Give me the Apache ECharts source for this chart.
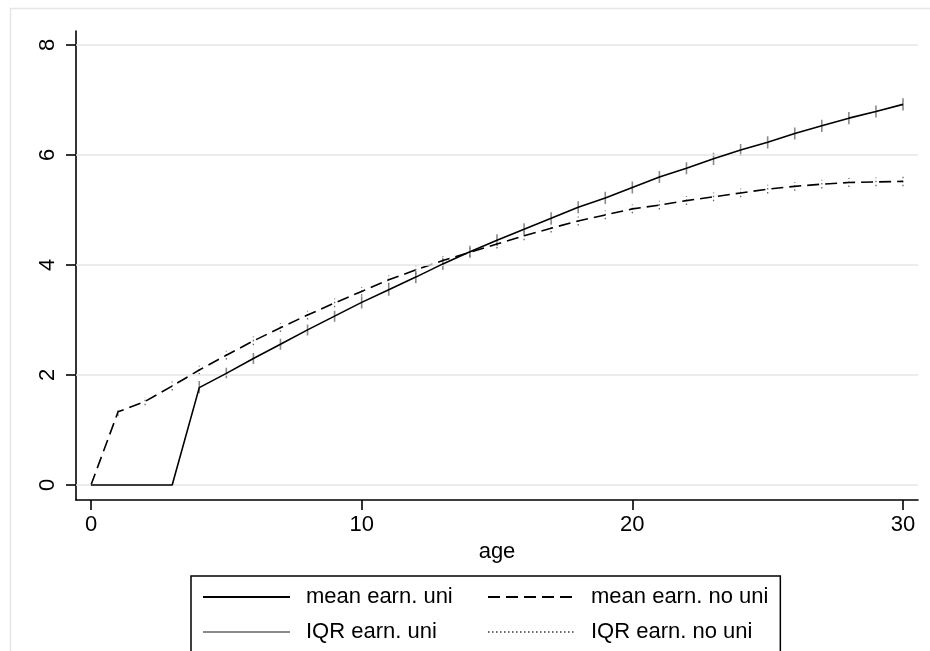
<!DOCTYPE html>
<html>
<head>
<meta charset="utf-8">
<script src="https://cdn.jsdelivr.net/npm/echarts@6/dist/echarts.min.js"></script>
<style>
html,body{margin:0;padding:0;background:#fff;}
#chart{width:930px;height:651px;}
</style>
</head>
<body>
<div id="chart"></div>
<script>
// ---- data ----
var ages = [0,1,2,3,4,5,6,7,8,9,10,11,12,13,14,15,16,17,18,19,20,21,22,23,24,25,26,27,28,29,30];
var meanUni = [0,0,0,0,1.77,2.03,2.30,2.56,2.82,3.07,3.32,3.55,3.78,4.02,4.24,4.45,4.65,4.85,5.05,5.22,5.41,5.60,5.76,5.93,6.09,6.23,6.39,6.53,6.67,6.79,6.92];
var meanNoUni = [0,1.33,1.52,1.80,2.09,2.36,2.62,2.86,3.09,3.31,3.52,3.73,3.91,4.08,4.23,4.38,4.53,4.67,4.80,4.91,5.02,5.09,5.17,5.24,5.31,5.38,5.43,5.47,5.50,5.51,5.52];
var iqrUniLo = [0,0,0,0,1.67,1.94,2.20,2.46,2.72,2.97,3.21,3.44,3.67,3.91,4.13,4.34,4.54,4.74,4.94,5.11,5.30,5.49,5.65,5.82,5.98,6.12,6.28,6.42,6.56,6.68,6.81];
var iqrUniHi = [0,0,0,0,1.89,2.13,2.40,2.66,2.92,3.17,3.43,3.66,3.89,4.13,4.35,4.56,4.76,4.96,5.16,5.33,5.52,5.71,5.87,6.04,6.20,6.34,6.50,6.64,6.78,6.90,7.03];
var iqrNoUniLo = [0,1.26,1.45,1.72,2.01,2.28,2.54,2.78,3.01,3.23,3.44,3.65,3.83,4.00,4.15,4.30,4.45,4.59,4.72,4.83,4.94,5.01,5.09,5.16,5.23,5.30,5.35,5.39,5.42,5.43,5.43];
var iqrNoUniHi = [0,1.40,1.60,1.88,2.17,2.44,2.70,2.94,3.17,3.39,3.60,3.81,3.99,4.16,4.31,4.46,4.61,4.75,4.88,4.99,5.10,5.17,5.25,5.32,5.39,5.46,5.51,5.55,5.58,5.59,5.61];
var xTicks = [0,10,20,30];
var yTicks = [0,2,4,6,8];
var seriesNames = ['mean earn. uni','mean earn. no uni','IQR earn. uni','IQR earn. no uni'];
var xTitle = 'age';

// ---- build ----
function pairs(ys){ return ages.map(function(a,i){ return [a, ys[i]]; }); }
function spikes(lo, hi){
  var out = [];
  ages.forEach(function(a,i){ out.push([a, lo[i]]); out.push([a, hi[i]]); out.push([a, '-']); });
  return out;
}
var FONT = "'Liberation Sans', Arial, Helvetica, sans-serif";
var chart = echarts.init(document.getElementById('chart'), null, {renderer:'canvas'});
var option = {
  animation: false,
  backgroundColor: '#ffffff',
  textStyle: {fontFamily: FONT, color: '#000'},
  graphic: [{
    type: 'rect', left: 8, top: 6, silent: true, z: -10,
    shape: {width: 960, height: 700},
    style: {fill: 'none', stroke: '#e6e6e6', lineWidth: 1.5}
  }],
  grid: {left: 76, right: 12, top: 31, bottom: 151, containLabel: false},
  xAxis: {
    type: 'value', min: -0.554, max: 30.554,
    name: xTitle, nameLocation: 'middle', nameGap: 31,
    nameTextStyle: {fontSize: 22, fontFamily: FONT, color: '#000'},
    axisLine: {show: true, onZero: false, lineStyle: {color: '#000', width: 1.6}},
    axisTick: {show: true, length: 10, customValues: xTicks, lineStyle: {color: '#000', width: 1.6}},
    axisLabel: {show: true, customValues: xTicks, margin: 14, fontSize: 22, fontFamily: FONT, color: '#000'},
    splitLine: {show: false}
  },
  yAxis: {
    type: 'value', min: -0.2727, max: 8.2545,
    axisLine: {show: true, onZero: false, lineStyle: {color: '#000', width: 1.6}},
    axisTick: {show: true, length: 10, customValues: yTicks, lineStyle: {color: '#000', width: 1.6}},
    axisLabel: {show: true, customValues: yTicks, rotate: 90, margin: 17, fontSize: 22, fontFamily: FONT, color: '#000'},
    splitLine: {show: false}
  },
  legend: {
    data: seriesNames,
    left: 191, top: 576,
    width: 580,
    orient: 'horizontal',
    padding: [9, 12, 14, 11],
    itemWidth: 87, itemHeight: 14, itemGap: 11,
    itemStyle: {opacity: 0},
    borderColor: '#000', borderWidth: 1.5,
    textStyle: {fontSize: 22, fontFamily: FONT, color: '#000', width: 170, lineHeight: 24, padding: [0,0,0,11]}
  },
  series: [
    {
      name: '__grid', type: 'line', data: [[0,0]], z: 1, silent: true,
      symbol: 'none', lineStyle: {opacity: 0},
      markLine: {
        silent: true, symbol: 'none', label: {show: false},
        lineStyle: {color: '#e6e6e6', type: 'solid', width: 1.5},
        data: yTicks.map(function(v){ return {yAxis: v}; })
      }
    },
    {
      name: seriesNames[2], type: 'line', data: spikes(iqrUniLo, iqrUniHi), z: 3,
      symbol: 'none', connectNulls: false,
      lineStyle: {color: '#8a8a8a', width: 1.6, type: 'solid'}, itemStyle: {color: '#8a8a8a'}
    },
    {
      name: seriesNames[3], type: 'line', data: spikes(iqrNoUniLo, iqrNoUniHi), z: 3,
      symbol: 'none', connectNulls: false,
      lineStyle: {color: '#666666', width: 1.3, type: [1.5, 2.5]}, itemStyle: {color: '#666666'}
    },
    {
      name: seriesNames[1], type: 'line', data: pairs(meanNoUni), z: 4,
      symbol: 'none',
      lineStyle: {color: '#000', width: 1.6, type: [12, 6]}, itemStyle: {color: '#000'}
    },
    {
      name: seriesNames[0], type: 'line', data: pairs(meanUni), z: 5,
      symbol: 'none',
      lineStyle: {color: '#000', width: 1.6, type: 'solid'}, itemStyle: {color: '#000'}
    }
  ]
};
chart.setOption(option);
</script>
</body>
</html>
